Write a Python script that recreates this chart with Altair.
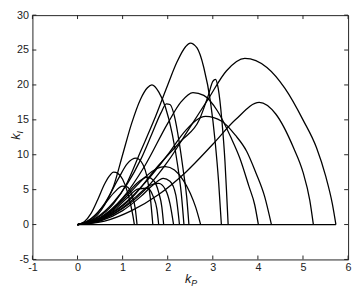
import altair as alt
import pandas as pd

# ---- curve data (kP, kI) ----
a_kp = [0, 0.15, 0.3, 0.45, 0.6, 0.7, 0.8, 0.9, 1.0, 1.1, 1.18, 1.23, 1.26]
a_ki = [0, 0.4, 1.6, 3.6, 5.8, 6.9, 7.5, 7.3, 6.5, 4.8, 2.8, 1.2, 0]
n_kp = [0, 0.2, 0.4, 0.6, 0.8, 1.0, 1.1, 1.2, 1.28, 1.32]
n_ki = [0, 0.4, 1.4, 2.9, 4.5, 5.5, 5.4, 4.3, 2.3, 0]
b_kp = [0, 0.3, 0.6, 0.9, 1.1, 1.3, 1.45, 1.55, 1.62, 1.67]
b_ki = [0, 0.8, 3.0, 6.5, 8.7, 9.5, 8.6, 6.5, 3.5, 0]
o_kp = [0, 0.4, 0.8, 1.1, 1.35, 1.55, 1.68, 1.76, 1.8]
o_ki = [0, 0.5, 2.0, 3.8, 5.1, 5.2, 4.0, 2.2, 0]
l_kp = [0, 0.4, 0.8, 1.1, 1.35, 1.55, 1.7, 1.8, 1.87, 1.91]
l_ki = [0, 0.6, 2.3, 4.4, 6.1, 6.8, 6.2, 4.6, 2.5, 0]
p_kp = [0, 0.5, 1.0, 1.3, 1.6, 1.8, 1.95, 2.05, 2.13]
p_ki = [0, 0.6, 2.4, 4.0, 5.6, 5.9, 5.0, 3.0, 0]
q_kp = [0, 0.5, 1.0, 1.4, 1.7, 1.9, 2.05, 2.18, 2.26]
q_ki = [0, 0.5, 2.0, 4.0, 5.8, 6.6, 6.2, 4.2, 0]
c_kp = [0, 0.3, 0.6, 0.8, 1.0, 1.2, 1.4, 1.55, 1.65, 1.8, 1.95, 2.1, 2.22, 2.3, 2.36]
c_ki = [0, 0.6, 2.8, 5.5, 10.0, 14.5, 18.0, 19.6, 20.0, 19.0, 16.8, 13.0, 8.5, 4.5, 0]
j_kp = [0, 0.4, 0.8, 1.1, 1.4, 1.65, 1.85, 1.97, 2.05, 2.15, 2.25, 2.35, 2.42, 2.47]
j_ki = [0, 0.9, 3.2, 5.8, 9.3, 13.0, 16.0, 17.3, 17.2, 15.5, 12.0, 7.5, 4.0, 0]
k_kp = [0, 0.4, 0.8, 1.2, 1.5, 1.75, 1.95, 2.15, 2.35, 2.5, 2.62, 2.73]
k_ki = [0, 0.6, 2.2, 4.8, 6.8, 8.0, 8.3, 7.8, 6.3, 4.5, 2.5, 0]
d_kp = [0, 0.4, 0.8, 1.1, 1.4, 1.7, 2.0, 2.2, 2.4, 2.5, 2.65, 2.8, 2.95, 3.05, 3.13, 3.19]
d_ki = [0, 0.8, 3.0, 6.0, 10.5, 15.0, 20.0, 23.2, 25.5, 26.0, 25.3, 22.5, 17.5, 12.0, 6.0, 0]
e_kp = [0, 0.6, 1.2, 1.8, 2.3, 2.7, 2.9, 3.0, 3.06, 3.12, 3.2, 3.27, 3.31, 3.34]
e_ki = [0, 1.0, 3.8, 8.5, 12.0, 15.0, 18.5, 20.5, 20.8, 19.5, 15.0, 9.0, 4.0, 0]
h_kp = [0, 0.5, 1.0, 1.5, 2.0, 2.3, 2.56, 2.8, 3.1, 3.4, 3.6, 3.8, 3.93, 4.01]
h_ki = [0, 1.0, 3.8, 8.5, 14.5, 17.6, 18.9, 18.5, 16.3, 12.5, 9.5, 5.5, 2.8, 0]
i_kp = [0, 0.5, 1.0, 1.5, 2.0, 2.4, 2.84, 3.2, 3.5, 3.75, 3.95, 4.15, 4.3]
i_ki = [0, 0.8, 2.8, 6.0, 10.0, 13.5, 15.5, 14.8, 12.8, 10.5, 7.5, 4.0, 0]
g_kp = [0, 0.6, 1.2, 1.8, 2.4, 3.0, 3.5, 4.03, 4.4, 4.79, 5.0, 5.15, 5.23]
g_ki = [0, 0.5, 2.0, 4.3, 7.5, 11.5, 15.0, 17.5, 15.8, 11.0, 7.5, 3.5, 0]
f_kp = [0, 0.8, 1.5, 2.0, 2.5, 2.9, 3.3, 3.71, 4.2, 4.6, 5.0, 5.3, 5.5, 5.65, 5.73]
f_ki = [0, 1.5, 5.0, 9.0, 14.0, 18.0, 22.0, 23.8, 22.5, 19.5, 15.0, 11.0, 7.0, 3.0, 0]
base_kp = [0, 5.73]
base_ki = [0, 0]

curves = {
    "a": (a_kp, a_ki), "n": (n_kp, n_ki), "b": (b_kp, b_ki), "o": (o_kp, o_ki),
    "l": (l_kp, l_ki), "p": (p_kp, p_ki), "q": (q_kp, q_ki), "c": (c_kp, c_ki),
    "j": (j_kp, j_ki), "k": (k_kp, k_ki), "d": (d_kp, d_ki), "e": (e_kp, e_ki),
    "h": (h_kp, h_ki), "i": (i_kp, i_ki), "g": (g_kp, g_ki), "f": (f_kp, f_ki),
    "base": (base_kp, base_ki),
}

x_ticks = [-1, 0, 1, 2, 3, 4, 5, 6]
y_ticks = [-5, 0, 5, 10, 15, 20, 25, 30]

rows = []
for name, (xs, ys) in curves.items():
    for idx, (xv, yv) in enumerate(zip(xs, ys)):
        rows.append({"curve": name, "idx": idx, "kp": xv, "ki": yv})
df = pd.DataFrame(rows)

W, H = 323, 250
xscale = alt.Scale(domain=[-1, 6], nice=False, zero=False)
yscale = alt.Scale(domain=[-5, 30], nice=False, zero=False)

FONT = "Liberation Sans"

xaxis = alt.Axis(values=x_ticks, title=None, ticks=False, domain=False,
                 grid=False, labelPadding=2, labelFontSize=11,
                 labelFont=FONT, labelColor="#222", labelOverlap=False,
                 labelFlush=False, labelExpr="'' + datum.value")
yaxis = alt.Axis(values=y_ticks, title=None, ticks=False, domain=False,
                 grid=False, labelPadding=4, labelFontSize=11,
                 labelFont=FONT, labelColor="#222", labelOverlap=False,
                 labelFlush=False, labelExpr="'' + datum.value")

lines = alt.Chart(df).mark_line(
    color="black", strokeWidth=1.3, interpolate="monotone"
).encode(
    x=alt.X("kp:Q", scale=xscale, axis=xaxis),
    y=alt.Y("ki:Q", scale=yscale, axis=yaxis),
    detail="curve:N",
    order="idx:Q",
)

xt = pd.DataFrame({"v": x_ticks})
yt = pd.DataFrame({"v": y_ticks})
TL = 4
xt_bot = alt.Chart(xt).mark_rule(color="#222", strokeWidth=1).encode(
    x=alt.X("v:Q", scale=xscale, axis=xaxis), y=alt.value(H), y2=alt.value(H - TL))
xt_top = alt.Chart(xt).mark_rule(color="#222", strokeWidth=1).encode(
    x=alt.X("v:Q", scale=xscale, axis=xaxis), y=alt.value(0), y2=alt.value(TL))
yt_left = alt.Chart(yt).mark_rule(color="#222", strokeWidth=1).encode(
    y=alt.Y("v:Q", scale=yscale, axis=yaxis), x=alt.value(0), x2=alt.value(TL))
yt_right = alt.Chart(yt).mark_rule(color="#222", strokeWidth=1).encode(
    y=alt.Y("v:Q", scale=yscale, axis=yaxis), x=alt.value(W), x2=alt.value(W - TL))

lab = pd.DataFrame({"t": [""]})
xk = alt.Chart(lab).mark_text(text="k", fontStyle="italic", fontSize=13, font=FONT,
                              align="right", baseline="alphabetic", color="#222").encode(
    x=alt.value(W / 2 + 1), y=alt.value(H + 24))
xp = alt.Chart(lab).mark_text(text="P", fontStyle="italic", fontSize=9, font=FONT,
                              align="left", baseline="alphabetic", color="#222").encode(
    x=alt.value(W / 2 + 1), y=alt.value(H + 27))
yk = alt.Chart(lab).mark_text(text="k", fontStyle="italic", fontSize=13, font=FONT,
                              align="right", baseline="alphabetic", angle=270, color="#222").encode(
    x=alt.value(-13), y=alt.value(H / 2 - 4))
yi = alt.Chart(lab).mark_text(text="I", fontStyle="italic", fontSize=9, font=FONT,
                              align="left", baseline="alphabetic", angle=270, color="#222").encode(
    x=alt.value(-10), y=alt.value(H / 2 - 4))

chart = alt.layer(lines, xt_bot, xt_top, yt_left, yt_right, xk, xp, yk, yi).properties(
    width=W, height=H,
    autosize=alt.AutoSizeParams(type="none"),
    padding={"left": 25, "top": 4, "right": 4, "bottom": 30},
    background="white",
).configure_view(stroke="#222", strokeWidth=1)

chart.save("out.html", embed_options={"renderer": "svg", "actions": False})
